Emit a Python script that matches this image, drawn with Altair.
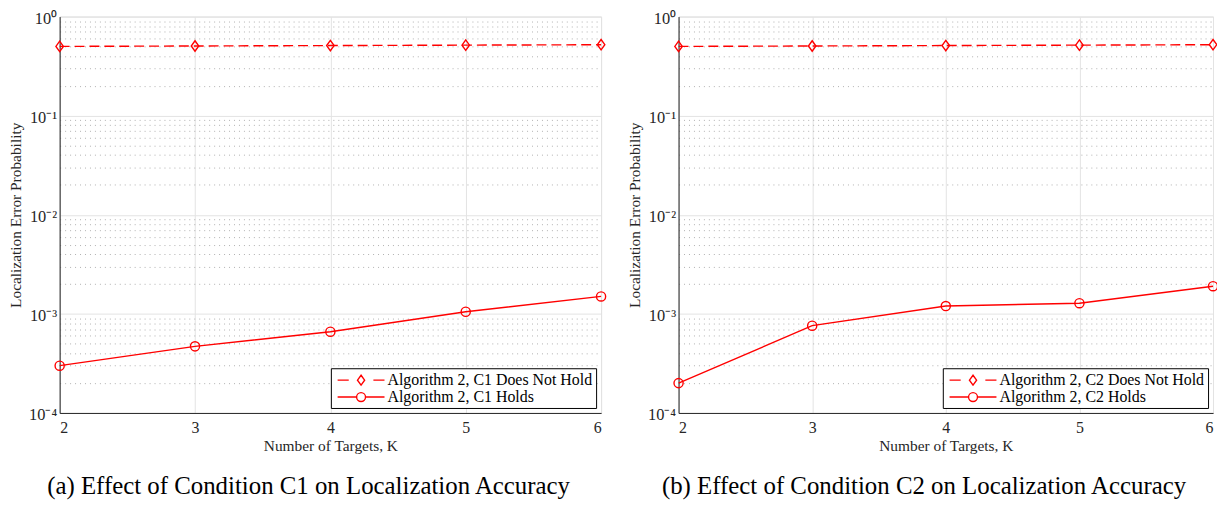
import altair as alt
import pandas as pd

K = [2, 3, 4, 5, 6]
c1_not_hold = [0.50, 0.505, 0.51, 0.515, 0.52]
c1_holds = [3.0e-4, 4.7e-4, 6.6e-4, 1.05e-3, 1.5e-3]
c2_not_hold = [0.50, 0.505, 0.51, 0.515, 0.52]
c2_holds = [2.0e-4, 7.6e-4, 1.2e-3, 1.28e-3, 1.9e-3]

x_ticks = [2, 3, 4, 5, 6]
y_ticks = []
for dec in [1e-4, 1e-3, 1e-2, 1e-1]:
    for m in range(1, 10):
        y_ticks.append(float(f"{m * dec:.6g}"))
y_ticks.append(1.0)

FONT = "Liberation Serif"
RED = "#ff0000"
DARK = "#262626"

DIAMOND = "M0,-1L0.72,0L0,1L-0.72,0Z"
LEG_DASH = ("M-4.9,0H-3.5M-0.4,0H1.0"
            "M-1.95,-0.62L-1.5,0L-1.95,0.62L-2.4,0Z")
LEG_SOLID = ("M-4.9,0H-2.51M-1.39,0H1.0"
             "M-1.39,0A0.56,0.56 0 1,1 -2.51,0A0.56,0.56 0 1,1 -1.39,0Z")

LABEL_EXPR = (
    "abs(datum.value - 1) < 1e-9 ? '10⁰' : "
    "abs(datum.value - 0.1) < 1e-12 ? '10⁻¹' : "
    "abs(datum.value - 0.01) < 1e-12 ? '10⁻²' : "
    "abs(datum.value - 0.001) < 1e-12 ? '10⁻³' : "
    "abs(datum.value - 0.0001) < 1e-12 ? '10⁻⁴' : ''"
)
MAJOR_TEST = (
    "abs(datum.value - 1) < 1e-9 || abs(datum.value - 0.1) < 1e-12 || "
    "abs(datum.value - 0.01) < 1e-12 || abs(datum.value - 0.001) < 1e-12 || "
    "abs(datum.value - 0.0001) < 1e-12"
)


def panel(holds, not_hold, cname, caption, width):
    s_not = f"Algorithm 2, {cname} Does Not Hold"
    s_hold = f"Algorithm 2, {cname} Holds"
    df = pd.DataFrame({
        "K": K + K,
        "P": not_hold + holds,
        "series": [s_not] * len(K) + [s_hold] * len(K),
    })
    base = alt.Chart(df)
    x = alt.X("K:Q", scale=alt.Scale(domain=[2, 6], nice=False, zero=False),
              axis=alt.Axis(values=x_ticks, format="d", title="Number of Targets, K",
                            grid=True, gridColor="#e3e3e3", gridWidth=1,
                            ticks=False, domain=True, domainColor=DARK, labelPadding=7,
                            labelFont=FONT, labelFontSize=16, labelColor=DARK,
                            titleFont=FONT, titleFontSize=15.5, titleFontWeight="normal",
                            titleColor=DARK, titlePadding=3))
    y = alt.Y("P:Q", scale=alt.Scale(type="log", domain=[1e-4, 1], nice=False),
              axis=alt.Axis(values=y_ticks, labelExpr=LABEL_EXPR, title="Localization Error Probability",
                            grid=True,
                            gridDash={"condition": {"test": MAJOR_TEST, "value": []}, "value": [1, 4]},
                            gridColor={"condition": {"test": MAJOR_TEST, "value": "#e3e3e3"}, "value": "#b0b0b0"},
                            ticks=False, domain=True, domainColor=DARK, labelOverlap=False, labelPadding=3,
                            labelOffset=2,
                            labelFont=FONT, labelFontSize=16.5, labelColor=DARK,
                            titleFont=FONT, titleFontSize=15.5, titleFontWeight="normal",
                            titleColor=DARK, titlePadding=5))
    line_not = base.transform_filter(alt.datum.series == s_not).mark_line(
        color=RED, strokeWidth=1.4, strokeDash=[10, 5]).encode(x=x, y=y)
    line_hold = base.transform_filter(alt.datum.series == s_hold).mark_line(
        color=RED, strokeWidth=1.4).encode(x=x, y=y)
    pts_d = base.transform_filter(alt.datum.series == s_not).mark_point(
        shape=DIAMOND, color=RED, filled=False, size=110, strokeWidth=1.4, opacity=1).encode(x=x, y=y)
    pts_c = base.transform_filter(alt.datum.series == s_hold).mark_point(
        shape="circle", color=RED, filled=False, size=85, strokeWidth=1.4, opacity=1).encode(x=x, y=y)
    leg = base.transform_filter("false").mark_point(color=RED, filled=False, strokeWidth=1.4).encode(
        x=x, y=y,
        shape=alt.Shape("series:N", scale=alt.Scale(domain=[s_not, s_hold], range=[LEG_DASH, LEG_SOLID]),
                        legend=alt.Legend(orient="bottom-right", offset=5, title=None,
                                          strokeColor="black", fillColor="white", padding=3,
                                          symbolSize=256, symbolStrokeColor=RED, symbolStrokeWidth=1.4,
                                          symbolFillColor="transparent", symbolOpacity=1,
                                          symbolOffset=34,
                                          labelFont=FONT, labelFontSize=16, labelColor="black",
                                          rowPadding=0, labelOffset=2, cornerRadius=0,
                                          labelLimit=400)),
    )
    return alt.layer(line_not, line_hold, pts_d, pts_c, leg).properties(
        width=width, height=399,
        title=alt.Title(caption, orient="bottom", anchor="middle", frame="bounds",
                        font=FONT, fontSize=25, fontWeight="normal", color="black", offset=20),
    )


left = panel(c1_holds, c1_not_hold, "C1", "(a) Effect of Condition C1 on Localization Accuracy", 545)
right = panel(c2_holds, c2_not_hold, "C2", "(b) Effect of Condition C2 on Localization Accuracy", 538)

chart = alt.hconcat(left, right, spacing=18).resolve_scale(
    shape="independent"
).resolve_legend(shape="independent").configure_view(
    stroke=DARK, strokeWidth=1
).configure(background="white", padding={"left": 0, "top": 0, "right": -4, "bottom": 0})

chart.save("out.html", embed_options={"renderer": "svg", "actions": False})
